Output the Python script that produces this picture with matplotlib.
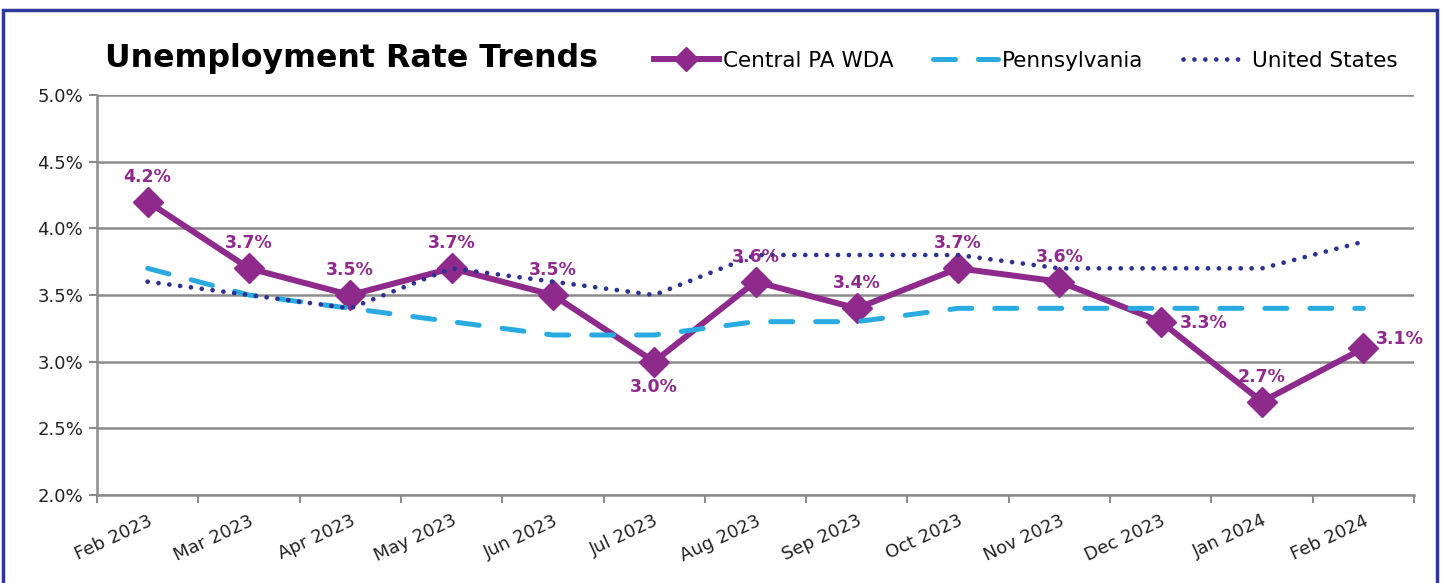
import matplotlib
matplotlib.use("Agg")
import matplotlib.pyplot as plt
from matplotlib.lines import Line2D
from matplotlib.patches import Rectangle
import numpy as np

months = ["Feb 2023", "Mar 2023", "Apr 2023", "May 2023", "Jun 2023", "Jul 2023",
          "Aug 2023", "Sep 2023", "Oct 2023", "Nov 2023", "Dec 2023", "Jan 2024", "Feb 2024"]
central_pa = [4.2, 3.7, 3.5, 3.7, 3.5, 3.0, 3.6, 3.4, 3.7, 3.6, 3.3, 2.7, 3.1]
pennsylvania = [3.7, 3.5, 3.4, 3.3, 3.2, 3.2, 3.3, 3.3, 3.4, 3.4, 3.4, 3.4, 3.4]
united_states = [3.6, 3.5, 3.4, 3.7, 3.6, 3.5, 3.8, 3.8, 3.8, 3.7, 3.7, 3.7, 3.9]
y_ticks = [2.0, 2.5, 3.0, 3.5, 4.0, 4.5, 5.0]
series_names = ["Central PA WDA", "Pennsylvania", "United States"]

PURPLE = "#8E2A8C"
BLUE = "#29ABE2"
NAVY = "#2E3192"
GRID = "#8C8C8C"

W, H = 1445, 583
fig = plt.figure(figsize=(W / 100, H / 100), dpi=100)
fig.patch.set_facecolor("white")

# border
fig.patches.append(Rectangle((3 / W, -0.05), 1434 / W, 1.05 - 10 / H, transform=fig.transFigure,
                             fill=False, edgecolor="#2E3A9A", linewidth=2.5, zorder=0))

ax = fig.add_axes([97 / W, 1 - 495 / H, (1414 - 97) / W, (495 - 95) / H])
x = np.arange(len(months))

ax.plot(x, central_pa, color=PURPLE, lw=4.3, marker="D", markersize=15.5,
        markeredgecolor=PURPLE, markerfacecolor=PURPLE, solid_joinstyle="round", zorder=3)
ax.plot(x, pennsylvania, color=BLUE, lw=3.6, ls=(0, (4.4, 4.6)), dash_capstyle="round", zorder=4)
ax.plot(x, united_states, color=NAVY, lw=3.4, ls=(0, (0.01, 2.3)), dash_capstyle="round", zorder=5)

# data labels
lab_kw = dict(textcoords="offset points", color=PURPLE, fontsize=12.5, fontweight="bold", zorder=6)
for i, v in enumerate(central_pa):
    lbl = f"{v:.1f}%"
    if i == 5:
        ax.annotate(lbl, (x[i], v), xytext=(0, -18), ha="center", va="center", **lab_kw)
    elif i == 10:
        ax.annotate(lbl, (x[i], v), xytext=(14, -1), ha="left", va="center", **lab_kw)
    elif i == 12:
        ax.annotate(lbl, (x[i], v), xytext=(9, 7), ha="left", va="center", **lab_kw)
    else:
        ax.annotate(lbl, (x[i], v), xytext=(0, 18), ha="center", va="center", **lab_kw)

ax.set_xlim(-0.5, len(months) - 0.5)
ax.set_ylim(2.0, 5.0)
ax.set_yticks(y_ticks)
ax.set_yticklabels([f"{t:.1f}%" for t in y_ticks], fontsize=13, color="#222222")
ax.yaxis.grid(True, color=GRID, lw=1.8, zorder=0)
ax.set_axisbelow(True)

ax.set_xticks(x)
ax.set_xticklabels(months, rotation=25, ha="right", va="top", rotation_mode="anchor",
                   fontsize=13, color="#222222")
ax.set_xticks(np.arange(len(months) + 1) - 0.5, minor=True)
ax.tick_params(axis="x", which="major", length=0, pad=12)
ax.tick_params(axis="x", which="minor", length=6, width=1.5, color=GRID)
ax.tick_params(axis="y", length=6, width=1.5, color=GRID, pad=4)

for s in ["top", "right"]:
    ax.spines[s].set_visible(False)
for s in ["left", "bottom"]:
    ax.spines[s].set_color(GRID)
    ax.spines[s].set_linewidth(1.8)

fig.text(105 / W, 1 - 58 / H, "Unemployment Rate Trends", fontsize=22.8, fontweight="bold",
         ha="left", va="center", color="#000000")

handles = [
    Line2D([], [], color=PURPLE, lw=4.3, marker="D", markersize=12),
    Line2D([], [], color=BLUE, lw=3.6, ls=(0, (4.4, 4.6)), dash_capstyle="round"),
    Line2D([], [], color=NAVY, lw=3.4, ls=(0, (0.01, 2.3)), dash_capstyle="round"),
]
fig.legend(handles, series_names, loc="center left", bbox_to_anchor=(654 / W, 1 - 61 / H),
           ncol=3, frameon=False, fontsize=15.5, handlelength=3.0, handletextpad=0.2,
           columnspacing=1.85, borderpad=0, borderaxespad=0)

fig.savefig("out.png", dpi=100, facecolor="white")
